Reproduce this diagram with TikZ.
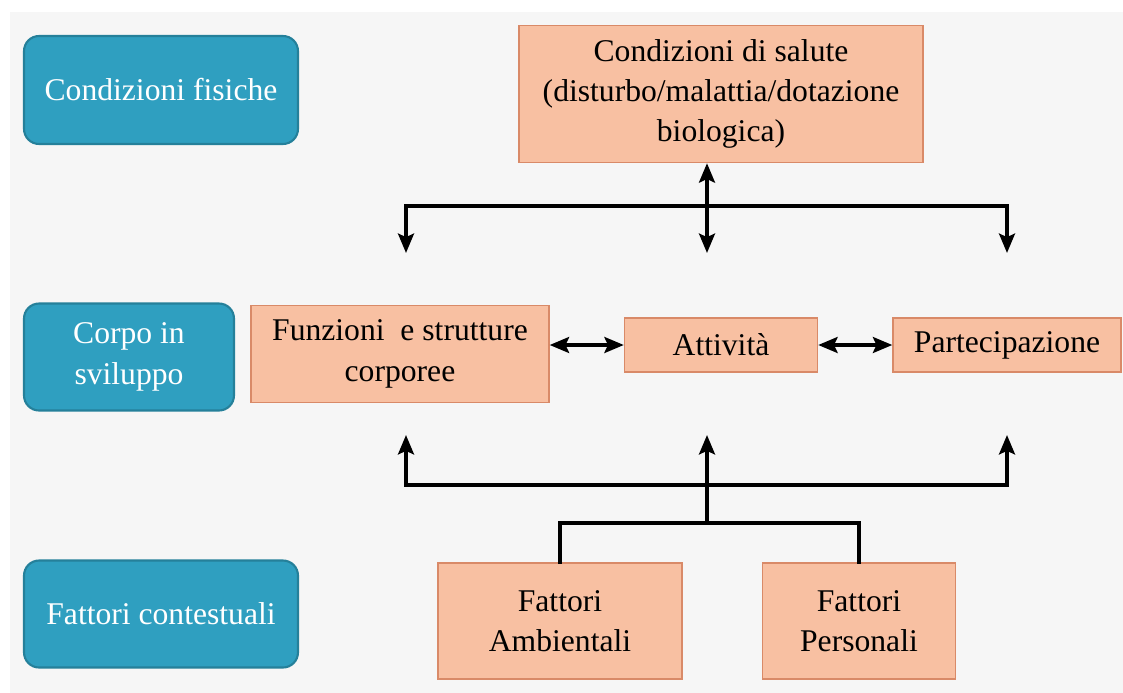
\documentclass[tikz,border=0pt]{standalone}
\usepackage{fontspec}
\setmainfont{Liberation Serif}
\usetikzlibrary{arrows.meta}
\definecolor{tealfill}{HTML}{2F9FC0}
\definecolor{tealline}{HTML}{25809A}
\definecolor{salmonfill}{HTML}{F8C0A2}
\definecolor{salmonline}{HTML}{D98A68}
\definecolor{paper}{HTML}{F6F6F6}
\begin{document}
\begin{tikzpicture}[x=0.02cm,y=-0.02cm,
  sidebox/.style={shape=rectangle,rounded corners=0.3cm,draw=tealline,line width=1.2pt,fill=tealfill,text=white,align=center,font=\fontsize{18}{23}\selectfont},
  mainbox/.style={shape=rectangle,draw=salmonline,line width=0.8pt,fill=salmonfill,text=black,align=center,font=\fontsize{18}{23}\selectfont},
  link/.style={line width=2.2pt,line cap=rect},
  arr/.style={link,-{Stealth[length=11pt,width=9pt,inset=2pt]}},
  biarr/.style={link,{Stealth[length=11pt,width=9pt,inset=2pt]}-{Stealth[length=11pt,width=9pt,inset=2pt]}}]
 \useasboundingbox (0,0) rectangle (1123,693);
 \fill[white] (0,0) rectangle (1123,693);
 \fill[paper] (10,12) rectangle (1123,693);
 \node (fisiche) at (161,90) [sidebox,minimum width=5.48cm,minimum height=2.16cm] {Condizioni fisiche};
 \node (sviluppo) at (129,357) [sidebox,minimum width=4.2cm,minimum height=2.14cm] {Corpo in\\sviluppo};
 \node (contestuali) at (161,614) [sidebox,minimum width=5.48cm,minimum height=2.14cm] {Fattori contestuali};
 \node (salute) at (721,94) [mainbox,minimum width=8.08cm,minimum height=2.74cm] {Condizioni di salute\\(disturbo/malattia/dotazione\\biologica)};
 \node (funzioni) at (400,354) [mainbox,minimum width=5.96cm,minimum height=1.94cm] {Funzioni~~e strutture\\corporee};
 \node (attivita) at (721,345) [mainbox,minimum width=3.86cm,minimum height=1.08cm] {Attività};
 \node (partecipazione) at (1007,345) [mainbox,minimum width=4.56cm,minimum height=1.08cm] {Partecipazione};
 \node (ambientali) at (560,621) [mainbox,minimum width=4.88cm,minimum height=2.32cm] {Fattori\\Ambientali};
 \node (personali) at (859,621) [mainbox,minimum width=3.86cm,minimum height=2.32cm] {Fattori\\Personali};
 \coordinate (top bar l) at (406,206);
 \coordinate (top bar r) at (1007,206);
 \coordinate (top end l) at (406,253);
 \coordinate (top end m) at (707,253);
 \coordinate (top end r) at (1007,253);
 \coordinate (low end l) at (406,435);
 \coordinate (low end m) at (707,435);
 \coordinate (low end r) at (1007,435);
 \coordinate (low bar l) at (406,485);
 \coordinate (low bar m) at (707,485);
 \coordinate (low bar r) at (1007,485);
 \coordinate (foot m) at (707,523);
 \coordinate (foot l) at (ambientali.north |- foot m);
 \coordinate (foot r) at (personali.north |- foot m);
 \draw[biarr] (salute.south -| top end m) -- (top end m);
 \draw[link] (top bar l) -- (top bar r);
 \draw[arr] (top bar l) -- (top end l);
 \draw[arr] (top bar r) -- (top end r);
 \draw[biarr] (funzioni.east |- attivita.west) -- (attivita.west);
 \draw[biarr] (attivita.east) -- (partecipazione.west);
 \draw[link] (low bar l) -- (low bar r);
 \draw[arr] (low bar l) -- (low end l);
 \draw[arr] (low bar m) -- (low end m);
 \draw[arr] (low bar r) -- (low end r);
 \draw[link] (low bar m) -- (foot m);
 \draw[link] (ambientali.north) -- (foot l) -- (foot r) -- (personali.north);
\end{tikzpicture}
\end{document}
